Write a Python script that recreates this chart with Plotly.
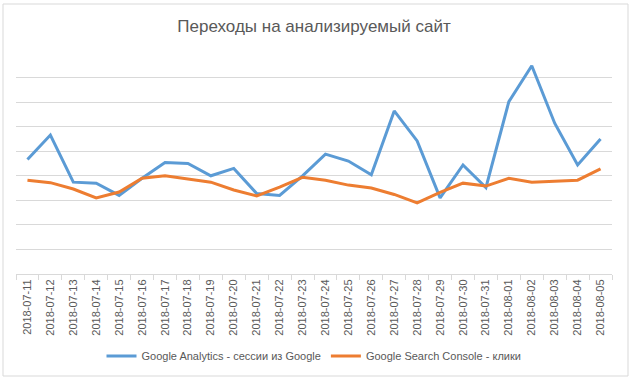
import plotly.graph_objects as go

dates = ["2018-07-11", "2018-07-12", "2018-07-13", "2018-07-14", "2018-07-15", "2018-07-16",
         "2018-07-17", "2018-07-18", "2018-07-19", "2018-07-20", "2018-07-21", "2018-07-22",
         "2018-07-23", "2018-07-24", "2018-07-25", "2018-07-26", "2018-07-27", "2018-07-28",
         "2018-07-29", "2018-07-30", "2018-07-31", "2018-08-01", "2018-08-02", "2018-08-03",
         "2018-08-04", "2018-08-05"]

ga_sessions = [233, 283, 187, 185, 160, 195, 227, 225, 200, 215, 164, 160, 200, 244,
               230, 202, 332, 271, 155, 222, 176, 351, 424, 307, 222, 275]

gsc_clicks = [191, 186, 173, 155, 167, 195, 200, 193, 187, 171, 159, 177, 197, 191,
              181, 175, 162, 145, 166, 185, 179, 195, 187, 189, 191, 214]

series_names = ["Google Analytics - сессии из Google", "Google Search Console - клики"]

fig = go.Figure()
fig.add_trace(go.Scatter(x=dates, y=ga_sessions, mode="lines", name=series_names[0],
                         line=dict(color="#5b9bd5", width=3)))
fig.add_trace(go.Scatter(x=dates, y=gsc_clicks, mode="lines", name=series_names[1],
                         line=dict(color="#ed7d31", width=3)))

fig.update_layout(
    width=632, height=383,
    margin=dict(l=16, r=20, t=53, b=109, autoexpand=False),
    paper_bgcolor="white", plot_bgcolor="white",
    font=dict(family="Liberation Sans", color="#595959", size=11),
    title=dict(text="Переходы на анализируемый сайт", x=0.5, xanchor="center",
               xref="paper", y=1 - 26 / 383, yanchor="middle", yref="container",
               font=dict(size=17, color="#595959", family="Liberation Sans")),
    showlegend=True,
    legend=dict(orientation="h", x=0.5, xanchor="center", y=-0.371, yanchor="middle",
                font=dict(size=11, color="#595959", family="Liberation Sans"),
                itemwidth=30, bgcolor="rgba(0,0,0,0)"),
    xaxis=dict(type="category", range=[-0.5, len(dates) - 0.5], tickangle=-90,
               showgrid=False, showline=True,
               linecolor="#d9d9d9", linewidth=1, ticks="outside", tickson="boundaries",
               ticklen=5, tickcolor="#d9d9d9", tickfont=dict(size=11, color="#595959"),
               fixedrange=True, automargin=False),
    yaxis=dict(range=[0, 450], dtick=50, showticklabels=False, showgrid=True,
               gridcolor="#d9d9d9", gridwidth=1, zeroline=False, showline=False,
               ticks="", fixedrange=True, automargin=False),
    shapes=[dict(type="rect", xref="paper", yref="paper",
                 x0=(3 - 16) / 596, x1=(628 - 16) / 596,
                 y0=(274 - 376) / 221, y1=(274 - 4) / 221,
                 line=dict(color="#d9d9d9", width=1), fillcolor="rgba(0,0,0,0)",
                 layer="below")],
)

fig.write_html("out.html", config={"displayModeBar": False},
               post_script="document.body.style.margin='0';document.body.style.overflow='hidden';")
